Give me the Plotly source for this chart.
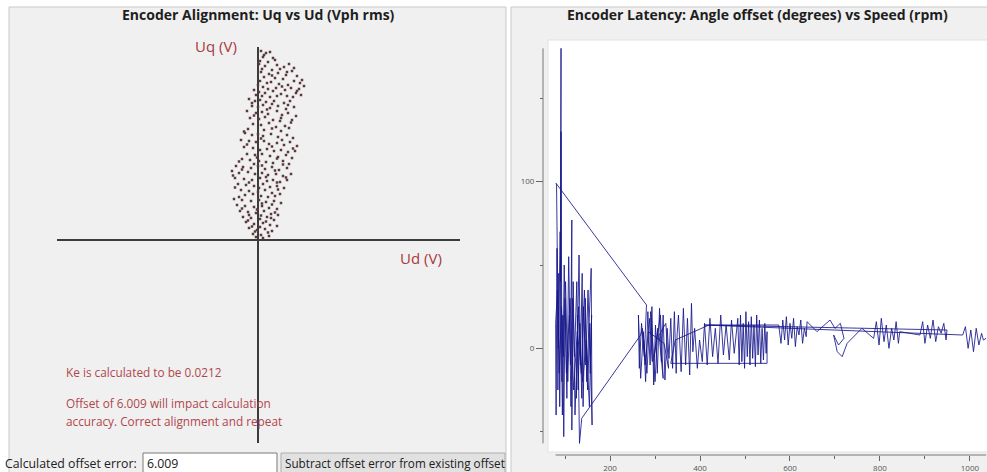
import plotly.graph_objects as go

W, H = 987, 472

# ---------------- Data ----------------
# Left chart: Uq vs Ud samples (Vph rms)
ud = [0.3, 0.8, 1.2, 0.5, 1.5, 0.2, 1.0, 0.7, 1.9, 2.6, 3.1, 0.4, 1.4, 2.2, 3.6,
      0.3, 1.1, 2.0, 2.8, 3.4, 0.6, 1.7, 2.5, 3.9, 4.4, 0.2, 0.9, 1.3, 2.1, 3.0, 3.6, 4.6,
      0.5, 1.0, 1.8, 2.7, 3.3, 4.1, 0.1, 0.7, 1.5, 2.3, 2.9, 3.8, 4.3, 0.4, 1.2, 3.5, -0.4, -0.2,
      -0.9, -0.3, 0.2, 0.8, 1.6, 2.6, 3.2, -0.6, 0.0, 0.5, 1.2, 2.0, 2.8, 3.6, -1.1, -0.2, 0.4,
      1.0, 1.9, 2.4, 3.0, 3.8, -0.8, 0.1, 0.7, 1.5, 2.2, 3.4, -0.5, 0.3, 1.1, 1.8, 2.7, -1.0,
      0.6, 2.3, 3.1,
      -1.3, -0.6, 0.0, 0.5, 1.3, 2.0, 2.9, 3.5, -1.7, -0.9, -0.2, 0.6, 1.1, 1.9, 2.6, 3.2, 3.9,
      -1.4, -0.5, 0.2, 0.9, 1.6, 2.3, 3.0, 3.7, -1.1, -0.3, 0.4, 1.2, 2.0, 2.8, 3.4, -1.6, -0.8,
      0.1, 0.8, 1.5, 2.5, 3.1, -0.4,
      -2.2, -1.5, -0.7, 0.0, 0.7, 1.4, 2.1, 2.9, -2.6, -1.9, -1.0, -0.3, 0.4, 1.0, 1.8, 2.5, 3.3,
      -2.3, -1.4, -0.6, 0.2, 0.9, 1.5, 2.2, 2.9, -2.0, -1.2, -0.4, 0.5, 1.2, 1.9, 2.6, -1.7, -0.9,
      0.0, 0.7, 1.4, 2.2, -1.3, 0.3, 1.0,
      -2.4, -1.6, -0.7, 0.1, 0.8, 1.6, 2.3, -2.1, -1.3, -0.4, 0.4, 1.1, 1.9, -1.8, -1.0, -0.2, 0.6,
      1.3, 2.0, -1.5, -0.7, 0.2, 0.9, 1.6, -1.2, -0.4, 0.5, 1.2, 1.9, -0.9, -0.1, 0.7, 1.4, -0.5,
      0.3, 1.1, -0.2,
      0.6, 1.7, 0.1, 2.9, 1.4, 4.2, 0.0, 2.4, 3.9, 1.9, -0.6, 1.4, 3.0, 0.9, 2.3, -0.4, 3.3, 1.4,
      -1.4, 0.3, 2.4, -1.1, 1.4, 3.5, -0.1, 1.9, -1.9, 0.4, 2.5, -1.6, 1.7, -2.5, 0.8, 2.8, -0.9,
      1.9, -2.3, 0.1, 2.0, -0.5, 1.7, -1.9, 0.4, 1.4, -1.6, -0.1, 1.7, -0.9, 0.3, 1.3, -1.0, 0.8,
      -0.6, 0.2, 1.0, -0.3, 0.5]
uq = [18.9, 18.7, 18.8, 18.3, 18.2, 17.9, 17.8, 17.4, 17.5, 17.3, 17.6, 17.1, 17.0, 17.1, 17.2,
      16.8, 16.6, 16.7, 16.5, 16.9, 16.3, 16.2, 16.1, 16.4, 16.0, 15.9, 15.7, 15.8, 15.6, 15.5, 15.9, 15.4,
      15.3, 15.1, 15.2, 15.0, 15.2, 15.1, 14.8, 14.7, 14.9, 14.6, 14.4, 14.7, 14.5, 14.4, 14.3, 14.3, 15.0, 14.5,
      14.1, 13.9, 14.0, 13.8, 13.9, 13.7, 13.9, 13.4, 13.3, 13.5, 13.2, 13.4, 13.1, 13.3, 12.9, 12.7, 12.8,
      12.6, 12.9, 12.5, 12.7, 12.4, 12.2, 12.1, 12.3, 12.0, 11.9, 12.0, 11.6, 11.5, 11.7, 11.3, 11.4, 11.1,
      11.0, 10.9, 11.2,
      10.7, 10.5, 10.6, 10.4, 10.6, 10.3, 10.5, 10.2, 10.0, 9.9, 9.8, 9.9, 9.6, 9.7, 9.5, 9.8, 9.4,
      9.3, 9.2, 9.0, 9.1, 8.9, 9.0, 8.8, 8.9, 8.6, 8.5, 8.6, 8.4, 8.3, 8.5, 8.2, 8.1, 8.0,
      7.9, 7.8, 7.7, 7.9, 7.6, 7.6,
      7.4, 7.3, 7.2, 7.4, 7.1, 7.3, 7.0, 7.2, 6.9, 6.7, 6.8, 6.6, 6.7, 6.5, 6.6, 6.4, 6.6,
      6.2, 6.1, 6.0, 6.2, 5.9, 6.0, 5.8, 6.0, 5.6, 5.5, 5.4, 5.6, 5.3, 5.4, 5.2, 5.0, 4.9,
      4.8, 5.0, 4.7, 4.6, 4.5, 4.4, 4.3,
      4.1, 4.0, 3.9, 4.0, 3.8, 3.9, 3.7, 3.5, 3.4, 3.3, 3.4, 3.2, 3.1, 2.9, 2.8, 2.7, 2.9,
      2.6, 2.5, 2.3, 2.2, 2.1, 2.3, 2.0, 1.8, 1.6, 1.7, 1.5, 1.4, 1.2, 1.0, 1.1, 0.9, 0.6,
      0.5, 0.4, 0.3,
      18.5, 18.0, 17.6, 16.8, 16.45, 15.7, 15.5, 15.35, 14.9, 14.4, 13.7, 13.6, 13.5, 13.05, 12.2,
      12.45, 11.75, 11.15, 10.85, 10.15, 10.0, 9.55, 9.35, 9.15, 8.25, 8.15, 7.85, 7.45, 7.55,
      7.05, 6.95, 6.45, 6.3, 6.25, 5.75, 5.75, 5.25, 5.2, 5.05, 4.6, 4.4, 4.3, 3.65, 3.55, 3.15,
      3.05, 2.75, 2.5, 2.45, 2.2, 1.95, 1.85, 1.35, 1.3, 0.75, 0.85, 0.2]

# Right chart: angle offset (degrees) vs speed (rpm), in recorded order
speed = [275, 282, 288, 294, 290, 300, 306, 298, 312, 318, 309, 324, 330, 320, 285, 278, 272, 268,
         137, 132, 128, 125, 131, 134, 138, 140, 145, 148, 152, 158, 160, 155, 150, 143, 136, 130,
         122, 118, 115, 115, 112, 108, 104, 100, 97, 95, 93, 91, 90, 91, 90, 88, 86, 84, 82, 80,
         79, 83, 87, 92, 96, 101, 106, 110, 113, 117, 121, 126, 129, 133, 137, 141, 146, 151, 156,
         159, 154, 147, 139, 127, 119, 111, 103, 98, 94, 89, 85, 81, 80,
         281, 276, 270, 265, 263, 268, 274, 279, 284, 289, 293, 297, 301, 305, 310, 314, 318, 322,
         327, 331, 335, 339, 343, 347, 349,
         352, 358, 363, 368, 372, 377, 381, 384, 388, 394, 399, 405, 410, 416, 422, 428, 434, 440,
         446, 452, 458, 465, 470, 476, 480,
         484, 487, 490, 493, 496, 499, 502, 505, 508, 511, 514, 517, 520, 523, 526, 529, 532, 535,
         538, 541, 544, 547, 549, 549, 335, 345, 420,
         575, 580, 584, 588, 592, 596, 600, 604, 608, 612, 616, 620, 624, 628, 632, 636, 638,
         660, 689, 700, 712, 720, 708, 697, 705, 716, 727,
         760, 786, 792, 798, 803, 809, 814, 820, 826, 831, 836, 841, 844,
         889, 895, 900, 906, 912, 918, 924, 930, 936, 942, 947, 949, 410,
         984, 990, 996, 1002, 1008, 1014, 1020, 1026, 1030, 1036]
offset = [5, -15, 18, -8, 22, -20, 12, -5, 20, -18, 8, 15, -12, 3, 10, -10, 12, 8,
          -42, -57, 20, -30, 56, -10, 45, -35, 30, -20, 10, 48, -46, 15, -25, 35, -15, 25,
          -40, 40, -49, 77, -10, 55, -30, 30, -53, 20, -20, 130, 40, 180, 10, -35, 45, -25, 60, -40,
          15, 35, -15, 25, -5, 40, -20, 20, -35, 30, -5, 40, -25, 15, -30, 25, -10, 35, -15,
          20, -35, 5, -20, 10, -25, 30, -15, 50, -40, 70, 0, 98, 99,
          26, -5, 15, -12, 20, -18, 10, -20, 22, -10, 25, -22, 14, -15, 24, -8, 20, -19,
          12, -6, 18, -12, 22, -15, 8,
          20, -14, 24, -10, 18, -16, 27, -2, 12, -12, 5, -8, 15, -10, 18, -5, 12, -9,
          20, -4, 14, -7, 17, -3, 10,
          18, -10, 20, -8, 15, -12, 22, -5, 16, -10, 19, -6, 14, -11, 20, -4, 17, -9,
          12, -7, 15, -3, 10, -9, -9, 5, 14,
          14, 3, 17, 5, 19, 2, 15, 6, 18, 1, 13, 8, 17, 3, 12, 7, 16,
          10, 17, 12, 15, 6, 2, 8, -2, -5, 3,
          12, 6, 16, 2, 18, 4, 14, 0, 12, 5, 16, 3, 10,
          8, 16, 3, 14, 6, 17, 4, 13, 9, 15, 5, 11, 14,
          8, 13, 0, 11, -2, 12, 2, 9, 5, 6]

# Ticks
speed_ticks = [200, 400, 600, 800, 1000]
offset_ticks = [0, 100]

# ---------------- Helpers (pixel -> paper) ----------------
def fx(px):
    return px / W

def fy(py):
    return 1 - py / H

FONT = "Open Sans"
RED = "#a8393f"

fig = go.Figure()
fig.add_trace(go.Scatter(
    x=ud, y=uq, mode="markers", xaxis="x", yaxis="y",
    marker=dict(size=2.5, color="#5a3a3c", symbol="square", line=dict(width=0)),
    hoverinfo="x+y", showlegend=False))
fig.add_trace(go.Scatter(
    x=speed, y=offset, mode="lines", xaxis="x2", yaxis="y2",
    line=dict(color="rgba(22,22,140,0.85)", width=1),
    showlegend=False))

shapes = [
    dict(type="rect", xref="paper", yref="paper", x0=fx(9), x1=fx(506), y0=-0.01, y1=fy(7),
         fillcolor="#f0f0f0", line=dict(color="#c9c9c9", width=1), layer="below"),
    dict(type="rect", xref="paper", yref="paper", x0=fx(511), x1=1.01, y0=-0.01, y1=fy(7),
         fillcolor="#f0f0f0", line=dict(color="#c9c9c9", width=1), layer="below"),
    dict(type="rect", xref="paper", yref="paper", x0=fx(548), x1=1.01, y0=fy(452), y1=fy(40),
         fillcolor="#ffffff", line=dict(color="#e2e2e2", width=1), layer="below"),
    dict(type="rect", xref="paper", yref="paper", x0=fx(143), x1=fx(277), y0=-0.01, y1=fy(453),
         fillcolor="#ffffff", line=dict(color="#7a7a7a", width=1), layer="below"),
    dict(type="rect", xref="paper", yref="paper", x0=fx(281), x1=fx(505), y0=-0.01, y1=fy(453),
         fillcolor="#e1e1e1", line=dict(color="#adadad", width=1), layer="below"),
    dict(type="line", xref="paper", yref="y2", x0=fx(543), x1=fx(543),
         y0=min(offset), y1=max(offset), line=dict(color="#777777", width=1)),
    dict(type="line", xref="x2", yref="paper", x0=min(speed), x1=max(speed),
         y0=fy(455), y1=fy(455), line=dict(color="#777777", width=1)),
]

ann = []
def add_text(text, x, y, size, color, xanchor="left", bold=False):
    ann.append(dict(text=f"<b>{text}</b>" if bold else text, x=fx(x), y=fy(y),
                    xref="paper", yref="paper", xanchor=xanchor, yanchor="middle",
                    showarrow=False, font=dict(family=FONT, size=size, color=color)))

add_text("Encoder Alignment: Uq vs Ud (Vph rms)", 258, 14, 14, "#1e1e1e", "center", True)
add_text("Encoder Latency: Angle offset (degrees) vs Speed (rpm)", 757, 14, 14, "#1e1e1e", "center", True)
add_text("Uq (V)", 216, 46, 15, RED, "center")
add_text("Ud (V)", 421, 258, 15, RED, "center")
add_text("Ke is calculated to be 0.0212", 64, 372, 11.8, "#b0474c")
add_text("Offset of 6.009 will impact calculation", 64, 403, 11.8, "#b0474c")
add_text("accuracy. Correct alignment and repeat", 64, 421, 11.8, "#b0474c")
add_text("Calculated offset error:", 3, 463, 12.3, "#202020")
add_text("6.009", 145, 463, 12.3, "#202020")
add_text("Subtract offset error from existing offset", 283, 463, 11.7, "#202020", "left")

tickfont = dict(family=FONT, size=8, color="#555555")

fig.update_layout(
    width=W, height=H,
    margin=dict(l=0, r=0, t=0, b=0),
    paper_bgcolor="#ffffff",
    plot_bgcolor="rgba(0,0,0,0)",
    showlegend=False,
    shapes=shapes,
    annotations=ann,
    xaxis=dict(domain=[fx(57), fx(460)], range=[-20.1, 20.2], showgrid=False,
               showticklabels=False, ticks="", zeroline=True, zerolinecolor="#3c3c3c",
               zerolinewidth=2, anchor="y", fixedrange=True),
    yaxis=dict(domain=[fy(443), fy(47)], range=[-20.3, 19.3], showgrid=False,
               showticklabels=False, ticks="", zeroline=True, zerolinecolor="#3c3c3c",
               zerolinewidth=2, anchor="x", fixedrange=True),
    xaxis2=dict(domain=[fx(548), 1.0], range=[62, 1038], anchor="free", position=fy(455),
                showgrid=False, zeroline=False, showline=False,
                tickvals=speed_ticks, ticks="outside", ticklen=5, tickcolor="#666666",
                tickfont=tickfont,
                minor=dict(dtick=100, tick0=0, ticks="outside", ticklen=3, tickcolor="#666666",
                           showgrid=False)),
    yaxis2=dict(domain=[fy(452), fy(40)], range=[-62.2, 185], anchor="free", position=fx(543),
                showgrid=False, zeroline=False, showline=False,
                tickvals=offset_ticks, ticks="outside", ticklen=7, tickcolor="#666666",
                tickfont=tickfont,
                minor=dict(dtick=50, tick0=0, ticks="outside", ticklen=3, tickcolor="#666666",
                           showgrid=False)),
)

fig.write_html("out.html")
